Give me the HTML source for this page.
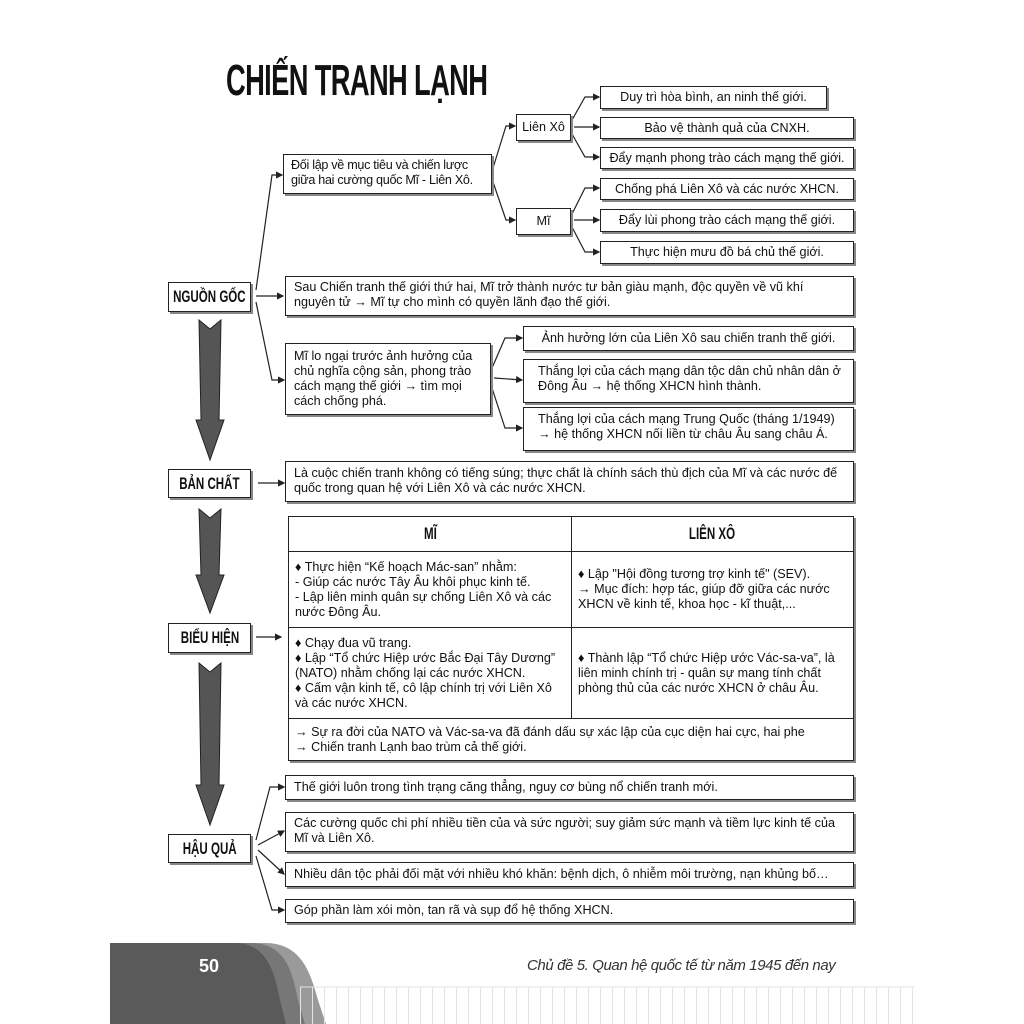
<!DOCTYPE html>
<html><head><meta charset="utf-8">
<style>
body{margin:0;background:#fff;}
#p{position:relative;width:1024px;height:1024px;overflow:hidden;background:#fff;font-family:"Liberation Sans",Arial,sans-serif;color:#111;}
.b{position:absolute;border:1.5px solid #222;box-shadow:2px 2px 0 #888;background:#fff;font-size:12.6px;line-height:15px;box-sizing:border-box;padding:2px 8px;}
.c{text-align:center;display:flex;align-items:center;justify-content:center;white-space:nowrap;}
.k{position:absolute;border:1.5px solid #222;box-shadow:2px 2px 0 #888;background:#fff;box-sizing:border-box;display:flex;align-items:center;justify-content:center;}
.k span,.h span{font-family:"Liberation Sans Narrow","Liberation Sans",sans-serif;font-weight:bold;font-size:17px;transform:scaleX(.68);display:inline-block;white-space:nowrap;}
table{position:absolute;left:288px;top:516px;width:566px;border-collapse:collapse;box-shadow:2px 2px 0 #888;}
td{border:1.5px solid #222;font-size:12.6px;line-height:15px;padding:2px 6px;vertical-align:middle;}
.h{text-align:center;height:30px;}
</style></head><body><div id="p">
<div style="position:absolute;left:226px;top:56px;font-family:'Liberation Sans Narrow','Liberation Sans',sans-serif;font-weight:bold;font-size:44px;transform:scaleX(.62);transform-origin:left top;white-space:nowrap;letter-spacing:-1px">CHIẾN TRANH LẠNH</div>

<svg style="position:absolute;left:0;top:0" width="1024" height="1024">
<defs><marker id="a" markerWidth="6" markerHeight="6" refX="5" refY="3" orient="auto"><path d="M0,0L6,3L0,6z" fill="#222"/></marker></defs>
<g fill="none" stroke="#222" stroke-width="1.2" marker-end="url(#a)">
<polyline points="256,290 272,175 282,175"/>
<polyline points="256,296 283,296"/>
<polyline points="256,302 272,380 284,380"/>
<polyline points="493,168 506,126 515,126"/>
<polyline points="493,182 506,220 515,220"/>
<polyline points="572,120 585,97 599,97"/>
<polyline points="574,127 599,127"/>
<polyline points="572,134 585,157 599,157"/>
<polyline points="572,214 585,188 599,188"/>
<polyline points="574,220 599,220"/>
<polyline points="572,227 585,252 599,252"/>
<polyline points="492,368 505,338 522,338"/>
<polyline points="494,378 522,380"/>
<polyline points="492,388 505,428 522,428"/>
<polyline points="258,483 284,483"/>
<polyline points="256,637 281,637"/>
<polyline points="256,840 270,787 284,787"/>
<polyline points="258,845 284,831"/>
<polyline points="258,850 284,874"/>
<polyline points="256,856 272,910 284,910"/>
</g>
<g fill="#555" stroke="#222" stroke-width="1">
<polygon points="199,320 210,329 221,320 219,420 224,420 210,460 196,420 201,420"/>
<polygon points="199,509 210,518 221,509 219,575 224,575 210,613 196,575 201,575"/>
<polygon points="199,663 210,672 221,663 219,785 224,785 210,825 196,785 201,785"/>
</g>
<path d="M110,1024 L110,943 L265,943 C300,943 310,970 318,1000 L326,1024Z" fill="#9a9a9a"/>
<path d="M110,1024 L110,943 L250,943 C285,943 292,970 298,1000 L305,1024Z" fill="#777"/>
<path d="M110,1024 L110,943 L235,943 C268,943 275,975 280,1000 L286,1024Z" fill="#5a5a5a"/>
<line x1="300" y1="987" x2="915" y2="987" stroke="#e4e4e4"/>
</svg>
<div style="position:absolute;left:300px;top:987px;width:615px;height:37px;background:repeating-linear-gradient(90deg,#e4e4e4 0 1px,transparent 1px 12px)"></div>
<div style="position:absolute;left:199px;top:956px;color:#fff;font-weight:bold;font-size:18px;font-family:'Liberation Sans Narrow','Liberation Sans',sans-serif">50</div>
<div style="position:absolute;left:527px;top:957px;font-style:italic;font-size:15px;color:#333;white-space:nowrap;letter-spacing:-0.4px">Chủ đề 5. Quan hệ quốc tế từ năm 1945 đến nay</div>

<div class="b c" style="left:516px;top:114px;width:55px;height:27px;padding:0">Liên Xô</div>
<div class="b c" style="left:516px;top:208px;width:55px;height:27px;padding:0">Mĩ</div>
<div class="b c" style="left:600px;top:86px;width:227px;height:23px">Duy trì hòa bình, an ninh thế giới.</div>
<div class="b c" style="left:600px;top:117px;width:254px;height:22px">Bảo vệ thành quả của CNXH.</div>
<div class="b c" style="left:600px;top:147px;width:254px;height:22px;padding:0">Đẩy mạnh phong trào cách mạng thế giới.</div>
<div class="b c" style="left:600px;top:178px;width:254px;height:22px">Chống phá Liên Xô và các nước XHCN.</div>
<div class="b c" style="left:600px;top:209px;width:254px;height:23px">Đẩy lùi phong trào cách mạng thế giới.</div>
<div class="b c" style="left:600px;top:241px;width:254px;height:23px">Thực hiện mưu đồ bá chủ thế giới.</div>
<div class="b" style="left:283px;top:154px;width:209px;height:40px;padding:3px 4px 0 7px;letter-spacing:-0.3px;white-space:nowrap">Đối lập về mục tiêu và chiến lược<br>giữa hai cường quốc Mĩ - Liên Xô.</div>
<div class="k" style="left:168px;top:282px;width:83px;height:30px"><span>NGUỒN GỐC</span></div>
<div class="b" style="left:285px;top:276px;width:569px;height:40px;padding-top:3px">Sau Chiến tranh thế giới thứ hai, Mĩ trở thành nước tư bản giàu mạnh, độc quyền về vũ khí nguyên tử → Mĩ tự cho mình có quyền lãnh đạo thế giới.</div>
<div class="b" style="left:285px;top:343px;width:206px;height:72px;padding-top:5px">Mĩ lo ngại trước ảnh hưởng của chủ nghĩa cộng sản, phong trào cách mạng thế giới → tìm mọi cách chống phá.</div>
<div class="b c" style="left:523px;top:326px;width:331px;height:25px">Ảnh hưởng lớn của Liên Xô sau chiến tranh thế giới.</div>
<div class="b" style="left:523px;top:359px;width:331px;height:44px;padding:4px 8px 0 14px">Thắng lợi của cách mạng dân tộc dân chủ nhân dân ở Đông Âu → hệ thống XHCN hình thành.</div>
<div class="b" style="left:523px;top:407px;width:331px;height:44px;padding:4px 8px 0 14px">Thắng lợi của cách mạng Trung Quốc (tháng 1/1949) → hệ thống XHCN nối liền từ châu Âu sang châu Á.</div>
<div class="k" style="left:168px;top:469px;width:83px;height:29px"><span>BẢN CHẤT</span></div>
<div class="b" style="left:285px;top:461px;width:569px;height:41px;padding-top:4px">Là cuộc chiến tranh không có tiếng súng; thực chất là chính sách thù địch của Mĩ và các nước đế quốc trong quan hệ với Liên Xô và các nước XHCN.</div>
<table>
<tr><td class="h" style="width:270px"><span>MĨ</span></td><td class="h"><span>LIÊN XÔ</span></td></tr>
<tr style="height:76px"><td>♦ Thực hiện “Kế hoạch Mác-san” nhằm:<br>- Giúp các nước Tây Âu khôi phục kinh tế.<br>- Lập liên minh quân sự chống Liên Xô và các nước Đông Âu.</td><td>♦ Lập "Hội đồng tương trợ kinh tế" (SEV).<br>→ Mục đích: hợp tác, giúp đỡ giữa các nước XHCN về kinh tế, khoa học - kĩ thuật,...</td></tr>
<tr style="height:91px"><td>♦ Chạy đua vũ trang.<br>♦ Lập “Tổ chức Hiệp ước Bắc Đại Tây Dương” (NATO) nhằm chống lại các nước XHCN.<br>♦ Cấm vận kinh tế, cô lập chính trị với Liên Xô và các nước XHCN.</td><td>♦ Thành lập “Tổ chức Hiệp ước Vác-sa-va”, là liên minh chính trị - quân sự mang tính chất phòng thủ của các nước XHCN ở châu Âu.</td></tr>
<tr style="height:42px"><td colspan="2">→ Sự ra đời của NATO và Vác-sa-va đã đánh dấu sự xác lập của cục diện hai cực, hai phe<br>→ Chiến tranh Lạnh bao trùm cả thế giới.</td></tr>
</table>
<div class="k" style="left:168px;top:623px;width:83px;height:30px"><span>BIỂU HIỆN</span></div>
<div class="k" style="left:168px;top:834px;width:83px;height:29px"><span>HẬU QUẢ</span></div>
<div class="b" style="left:285px;top:775px;width:569px;height:25px;padding-top:4px">Thế giới luôn trong tình trạng căng thẳng, nguy cơ bùng nổ chiến tranh mới.</div>
<div class="b" style="left:285px;top:812px;width:569px;height:40px;padding-top:3px">Các cường quốc chi phí nhiều tiền của và sức người; suy giảm sức mạnh và tiềm lực kinh tế của Mĩ và Liên Xô.</div>
<div class="b" style="left:285px;top:862px;width:569px;height:25px;padding-top:4px">Nhiều dân tộc phải đối mặt với nhiều khó khăn: bệnh dịch, ô nhiễm môi trường, nạn khủng bố…</div>
<div class="b" style="left:285px;top:899px;width:569px;height:24px;padding-top:3px">Góp phần làm xói mòn, tan rã và sụp đổ hệ thống XHCN.</div>
</div></body></html>
